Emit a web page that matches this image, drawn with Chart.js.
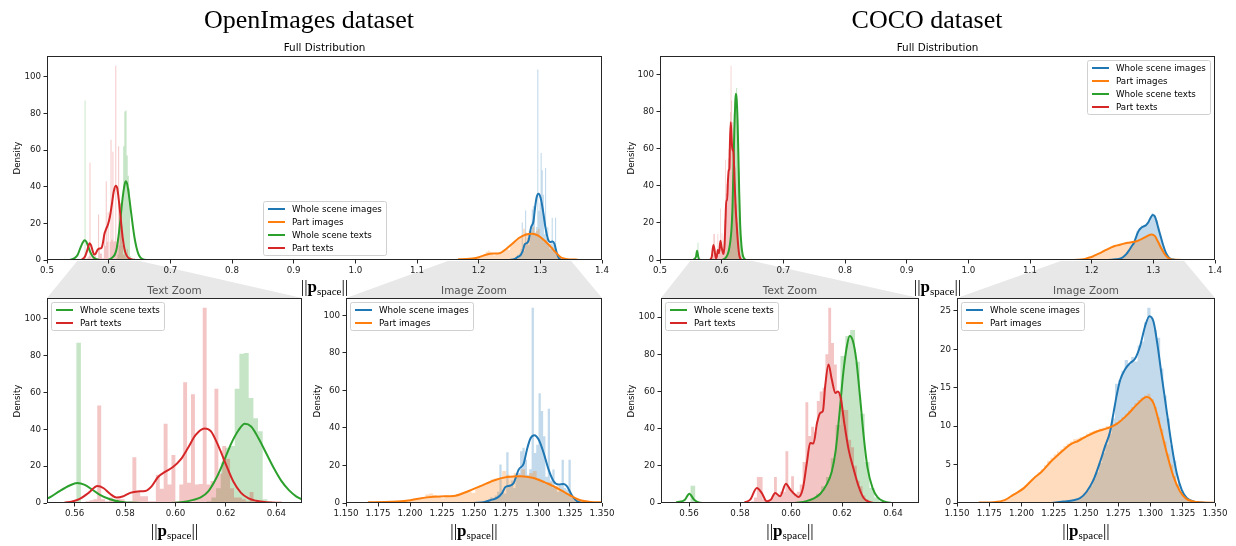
<!DOCTYPE html>
<html>
<head>
<meta charset="utf-8">
<title>Norm distributions</title>
<script src="https://cdn.jsdelivr.net/npm/chart.js@4.4.1/dist/chart.umd.min.js"></script>
<style>
html,body{margin:0;padding:0;background:#fff;}
body{position:relative;width:1236px;height:546px;overflow:hidden;font-family:'DejaVu Sans',sans-serif;color:#000;}
#bg{position:absolute;left:0;top:0;z-index:0;}
canvas.ch{position:absolute;z-index:1;}
.t{position:absolute;white-space:nowrap;transform:translate(-50%,-50%);z-index:2;line-height:1;}
.sup{font-family:'Liberation Serif',serif;font-size:26px;}
.ttl{font-size:10.4px;}
.dens{font-size:8.7px;width:60px;height:10px;line-height:10px;text-align:center;margin-left:-30px;margin-top:-5px;transform:rotate(-90deg);}
.xl{font-family:'Liberation Serif',serif;font-size:17px;}
.xl b{font-weight:bold;}
.xl sub{font-size:11px;vertical-align:-3px;line-height:0;}
.leg{position:absolute;z-index:3;box-sizing:border-box;background:rgba(255,255,255,0.8);border:1px solid #d0d0d0;border-radius:2.5px;padding:3px 4px 3px 4px;font-size:8.7px;white-space:nowrap;}
.row{display:flex;align-items:center;height:8.5px;}
.row+.row{margin-top:4.3px;}
.ln{display:inline-block;width:17px;height:2px;margin-right:7px;}
</style>
</head>
<body>
<canvas id="bg" width="1236" height="546"></canvas>
<script>
// ================= DATA : OpenImages =================
// Whole scene images (blue)
const oiImgWholeKdeX = [1.2497,1.2576,1.2641,1.268,1.2719,1.2745,1.2784,1.281,1.2849,1.2888,1.2914,1.294,1.2971,1.3005,1.3044,1.3083,1.3122,1.3161,1.32,1.3227,1.3266,1.3305,1.3344];
const oiImgWholeKdeY = [0,0.4,1.8,2.7,5.3,8.5,9.3,10.7,17.8,21,28.5,34.2,36.1,33.8,26.7,17.8,11.6,9.8,10.1,8.9,3.9,0.9,0];
const oiImgWholeHistStart = 1.2554, oiImgWholeHistWidth = 0.0018;
const oiImgWholeHistH = [0.5,1,1.5,2,3,2,4,6,20.5,7,5,27,9,12,8,14,16,27.6,29.4,23,15,18,104,26.7,31,58.4,49,35.6,14,50.2,12,17.8,8,6,9,23,8,7,23,3,1.5,0.5];
// Part images (orange)
const oiImgPartKdeX = [1.1677,1.18,1.19,1.2003,1.2133,1.2237,1.234,1.2445,1.255,1.2654,1.2758,1.2862,1.2966,1.307,1.3174,1.3253,1.3331,1.3409,1.35,1.36];
const oiImgPartKdeY = [0.4,0.5,0.8,1.5,3,3.5,3.7,6,9,12,13.8,14.3,13.3,10.5,7,4,1.5,0.6,0.3,0.2];
const oiImgPartHistStart = 1.167, oiImgPartHistWidth = 0.003;
const oiImgPartHistH = [0.3,0.3,0.4,0.4,0.5,0.5,0.7,0.8,1,1.2,1.3,1.6,2,2.4,3,4.5,5,4.2,3.5,2.5,4,3.2,4,4.5,5.5,6,6.5,5.5,8.5,9.5,10,11,12.5,13,13.5,17,15,14,16,15,18,14,16,17,13,12,10,11,8,9,7,5,4,3,2,1.5,1,0.6,0.4,0.3,0.2,0.2,0.1,0.1];
// Whole scene texts (green)
const oiTxtWholeKdeX = [0.538,0.542,0.546,0.550,0.554,0.558,0.561,0.564,0.567,0.570,0.574,0.578,0.584,0.59,0.598,0.603,0.607,0.610,0.613,0.616,0.619,0.622,0.625,0.6275,0.630,0.633,0.636,0.639,0.642,0.645,0.648,0.651,0.655,0.659];
const oiTxtWholeKdeY = [0.2,0.6,1.3,3,6.5,9.5,10.8,9.8,7.2,4.4,2,0.7,0.1,0,0,0.6,1.7,3,6.3,13,22,32,39.5,43,41.5,35,27,19,12,7,3.5,1.6,0.5,0.1];
const oiTxtWholeHistStart = 0.5606, oiTxtWholeHistWidth = 0.00185;
const oiTxtWholeHistH = [87,0,0,0,0,0,0,0,0,0,0,0,0,0,0,0,0,0,0,0,0,0,0,0,0,0,0,0.5,1,3,8,22,30,31,62,81,81.5,57,46,39,2,1];
// Part texts (red)
const oiTxtPartKdeX = [0.556,0.559,0.562,0.5655,0.569,0.5715,0.574,0.5765,0.579,0.582,0.585,0.588,0.5905,0.593,0.596,0.599,0.602,0.605,0.608,0.6115,0.614,0.617,0.620,0.623,0.626,0.629,0.632,0.636,0.642];
const oiTxtPartKdeY = [0.2,0.8,2.2,5.5,9.2,8,5,3,3.5,5.5,6.3,6.5,9,14,17,19.5,23.5,30,37,40.5,39,31,21,11.5,5.5,2.5,1.2,0.4,0.1];
const oiTxtPartHistStart = 0.5612, oiTxtPartHistWidth = 0.00155;
const oiTxtPartHistH = [0,0,1,1.5,2,53,2,1,3,1.5,2.5,2,0.5,1,24.8,6.3,3.6,3.6,1,1,15.4,7.8,43,10,26,1,10,65.6,11,59,10,10.3,106,10,12,62,16,31,24,8,3,3,2,1,6,1];

// ================= DATA : COCO =================
const cocoImgWholeKdeX = [1.2235,1.2326,1.2403,1.2455,1.2506,1.2558,1.261,1.2648,1.2687,1.2713,1.2739,1.2765,1.2803,1.2842,1.2881,1.2919,1.2958,1.2992,1.3023,1.3054,1.3087,1.3126,1.3165,1.3203,1.3242,1.3281,1.3332,1.345];
const cocoImgWholeKdeY = [0,0.2,0.35,0.65,1.5,3,5.4,7.4,9.3,11.7,14.1,16,17.4,18.2,18.8,20.4,23,24.3,23.6,20.6,16.5,11.9,7.4,3.9,1.7,0.65,0.2,0];
const cocoImgWholeHistStart = 1.2225, cocoImgWholeHistWidth = 0.0025;
const cocoImgWholeHistH = [0.1,0.1,0.15,0.2,0.2,0.3,0.35,0.4,0.6,0.8,1.2,1.6,2.2,3.2,4,5.2,6.5,7.6,9,11,15.5,16,17.2,18.6,18,19,18.4,20.5,21,23.5,25.4,24,22.5,21.5,17.5,14,11,7.5,5.5,2.5,1.5,0.7,0.4,0.2,0.1];
const cocoImgPartKdeX = [1.1675,1.1784,1.1874,1.1939,1.2016,1.2094,1.2158,1.2223,1.23,1.2377,1.2442,1.2506,1.2584,1.2661,1.2739,1.2816,1.2894,1.2971,1.3023,1.3074,1.3126,1.3177,1.3229,1.3281,1.3358,1.35,1.36];
const cocoImgPartKdeY = [0.05,0.1,0.4,1.1,1.9,3.2,4.1,5.3,6.5,7.6,8.1,8.7,9.3,9.7,10.3,11.4,12.8,13.8,13,10,6.5,3.5,1.5,0.5,0.13,0.04,0.02];
const cocoImgPartHistStart = 1.1675, cocoImgPartHistWidth = 0.0025;
const cocoImgPartHistH = [0.05,0.07,0.08,0.1,0.15,0.2,0.25,0.35,0.5,0.7,1,1.3,1.6,2,2.3,2.7,3.1,3.5,4,4.4,4.9,5.5,5.9,6.3,6.7,7,7.4,7.7,8,8.3,8.4,8.6,8.7,9,9.2,9.4,9.5,9.7,9.8,10,9.9,10.2,10.5,10.8,11.2,11.6,12,12.5,13,13.4,13.7,14,14.2,13.5,12.5,11.2,9.6,8,6.4,5,3.5,2.3,1.4,0.8,0.4,0.2,0.1,0.05];
const cocoTxtWholeKdeX = [0.5552,0.5584,0.5601,0.562,0.5643,0.57,0.60,0.603,0.606,0.609,0.6115,0.614,0.616,0.6175,0.619,0.6205,0.622,0.623,0.6243,0.6256,0.627,0.6285,0.630,0.632,0.634,0.6365,0.64];
const cocoTxtWholeKdeY = [0.4,1.8,5,1.8,0.2,0,0,0.3,1,2.5,5,10,17,28,48,70,85,89.8,87,77,58,36,19,8,3,0.8,0];
const cocoTxtWholeHistStart = 0.5605, cocoTxtWholeHistWidth = 0.0019;
const cocoTxtWholeHistH = [9.3,0.3,0,0,0,0,0,0,0,0,0,0,0,0,0,0,0,0,0,0,0,0,0.3,0.6,1.2,2.5,5,9,14,24,42,79,89.8,93,76,48,22,8,3,1,0.3];
const cocoTxtPartKdeX = [0.582,0.584,0.5866,0.5885,0.5905,0.5921,0.5938,0.5957,0.598,0.5997,0.6016,0.6029,0.6047,0.6062,0.6075,0.6088,0.6102,0.6115,0.6125,0.6134,0.6147,0.616,0.6174,0.6184,0.6196,0.6209,0.6226,0.6246,0.6265,0.6285,0.6311,0.6324];
const cocoTxtPartKdeY = [0.4,1.8,8.1,5.4,0.9,1.8,5.4,3.6,10.4,7.2,4.5,3.2,8.1,21.5,32.3,32,43,48.5,49.4,62.8,74.5,66.4,59.2,60,55.7,43,28.7,18,9,2.7,0.4,0];
const cocoTxtPartHistStart = 0.58325, cocoTxtPartHistWidth = 0.00112;
const cocoTxtPartHistH = [0.5,1,3,14,14,2,0.5,2,3,14,4,6,6,27.8,8,14.4,5,6,10,22,54.2,36,41,38,54.8,60,62,80,105,86,74.5,60,57,50,50,34,30,20,12,9,4,2,1];

// ================= TICKS / LABELS =================
const seriesLabels = ['Whole scene images','Part images','Whole scene texts','Part texts'];
const fullTicksX = [0.5,0.6,0.7,0.8,0.9,1.0,1.1,1.2,1.3,1.4];
const txtTicksX = [0.56,0.58,0.60,0.62,0.64];
const imgTicksX = [1.150,1.175,1.200,1.225,1.250,1.275,1.300,1.325,1.350];
const densTicks100 = [0,20,40,60,80,100];
const densTicks25 = [0,5,10,15,20,25];

// ================= BUILD =================
const C_BLUE='#1f77b4', C_ORANGE='#ff7f0e', C_GREEN='#2ca02c', C_RED='#d62728';
function rgba(hex,a){const n=parseInt(hex.slice(1),16);return 'rgba('+(n>>16)+','+((n>>8)&255)+','+(n&255)+','+a+')';}
function histPoints(start,width,vals){const pts=vals.map((v,i)=>({x:start+i*width,y:v}));pts.push({x:start+vals.length*width,y:0});return pts;}
function kdePoints(xs,ys){return xs.map((x,i)=>({x:x,y:ys[i]}));}

const oiSeries = [
  {label:seriesLabels[0],color:C_BLUE,kx:oiImgWholeKdeX,ky:oiImgWholeKdeY,hs:oiImgWholeHistStart,hw:oiImgWholeHistWidth,hv:oiImgWholeHistH},
  {label:seriesLabels[1],color:C_ORANGE,kx:oiImgPartKdeX,ky:oiImgPartKdeY,hs:oiImgPartHistStart,hw:oiImgPartHistWidth,hv:oiImgPartHistH},
  {label:seriesLabels[2],color:C_GREEN,kx:oiTxtWholeKdeX,ky:oiTxtWholeKdeY,hs:oiTxtWholeHistStart,hw:oiTxtWholeHistWidth,hv:oiTxtWholeHistH},
  {label:seriesLabels[3],color:C_RED,kx:oiTxtPartKdeX,ky:oiTxtPartKdeY,hs:oiTxtPartHistStart,hw:oiTxtPartHistWidth,hv:oiTxtPartHistH}
];
const cocoSeries = [
  {label:seriesLabels[0],color:C_BLUE,kx:cocoImgWholeKdeX,ky:cocoImgWholeKdeY,hs:cocoImgWholeHistStart,hw:cocoImgWholeHistWidth,hv:cocoImgWholeHistH},
  {label:seriesLabels[1],color:C_ORANGE,kx:cocoImgPartKdeX,ky:cocoImgPartKdeY,hs:cocoImgPartHistStart,hw:cocoImgPartHistWidth,hv:cocoImgPartHistH},
  {label:seriesLabels[2],color:C_GREEN,kx:cocoTxtWholeKdeX,ky:cocoTxtWholeKdeY,hs:cocoTxtWholeHistStart,hw:cocoTxtWholeHistWidth,hv:cocoTxtWholeHistH},
  {label:seriesLabels[3],color:C_RED,kx:cocoTxtPartKdeX,ky:cocoTxtPartKdeY,hs:cocoTxtPartHistStart,hw:cocoTxtPartHistWidth,hv:cocoTxtPartHistH}
];

const panels = [
  {key:'oiFull',L:47,T:56,R:602,B:260,series:oiSeries,xmin:0.5,xmax:1.4,xt:fullTicksX,xd:1,yt:densTicks100,title:'Full Distribution',tcol:'#000',leg:'lower center',densX:17,xlY:286},
  {key:'oiTxt',L:47,T:298,R:302,B:503,series:[oiSeries[2],oiSeries[3]],xmin:0.549,xmax:0.6502,xt:txtTicksX,xd:2,yt:densTicks100,title:'Text Zoom',tcol:'#555',leg:'upper left',densX:17,xlY:530,parent:'oiFull'},
  {key:'oiImg',L:346,T:298,R:602,B:503,series:[oiSeries[0],oiSeries[1]],xmin:1.15,xmax:1.35,xt:imgTicksX,xd:3,yt:densTicks100,title:'Image Zoom',tcol:'#555',leg:'upper left',densX:317,xlY:530,parent:'oiFull'},
  {key:'cocoFull',L:660,T:56,R:1215,B:260,series:cocoSeries,xmin:0.5,xmax:1.4,xt:fullTicksX,xd:1,yt:densTicks100,title:'Full Distribution',tcol:'#000',leg:'upper right',densX:631,xlY:286},
  {key:'cocoTxt',L:661,T:298,R:919,B:503,series:[cocoSeries[2],cocoSeries[3]],xmin:0.549,xmax:0.6502,xt:txtTicksX,xd:2,yt:densTicks100,title:'Text Zoom',tcol:'#555',leg:'upper left',densX:631,xlY:530,parent:'cocoFull'},
  {key:'cocoImg',L:957,T:298,R:1215,B:503,series:[cocoSeries[0],cocoSeries[1]],xmin:1.15,xmax:1.35,xt:imgTicksX,xd:3,yt:densTicks25,title:'Image Zoom',tcol:'#555',leg:'upper left',densX:933,xlY:530,parent:'cocoFull'}
];

Chart.defaults.font.family = "'DejaVu Sans', sans-serif";
Chart.defaults.color = '#1a1a1a';
const LW=44, TP=6, RP=18, XH=20;

const framePlugin = {id:'frame', afterDatasetsDraw(c){const a=c.chartArea,g=c.ctx;g.save();g.strokeStyle='#262626';g.lineWidth=1;g.strokeRect(Math.round(a.left)+0.5,Math.round(a.top)+0.5,Math.round(a.right-a.left)-1,Math.round(a.bottom-a.top)-1);g.restore();}};

function axisOpts(min,max,ticksArr,dec,isX){
  return {
    type:'linear',min:min,max:max,
    afterBuildTicks:s=>{s.ticks=ticksArr.map(v=>({value:v}));},
    afterFit:s=>{if(isX){s.height=XH;s.paddingLeft=0;s.paddingRight=0;}else{s.width=LW;s.paddingTop=0;s.paddingBottom=0;}},
    grid:{display:true,drawOnChartArea:false,drawTicks:true,tickLength:3.5,color:'#262626',lineWidth:1},
    border:{display:false},
    ticks:{autoSkip:false,maxRotation:0,minRotation:0,padding:isX?2:2.5,font:{size:8.7},color:'#1a1a1a',callback:v=>Number(v).toFixed(dec)}
  };
}

function makeDatasets(series){
  const ds=[];
  series.forEach((s,i)=>{
    ds.push({label:s.label+' (hist)',data:histPoints(s.hs,s.hw,s.hv),stepped:true,fill:'origin',backgroundColor:rgba(s.color,0.27),borderColor:'rgba(0,0,0,0)',borderWidth:0,pointRadius:0,pointHoverRadius:0,order:20-i});
  });
  series.forEach((s,i)=>{
    ds.push({label:s.label,data:kdePoints(s.kx,s.ky),borderColor:s.color,borderWidth:2,pointRadius:0,pointHoverRadius:0,fill:false,cubicInterpolationMode:'monotone',borderJoinStyle:'round',borderCapStyle:'round',order:3-i});
  });
  return ds;
}

function addText(cls,txt,x,y,color,html){
  const d=document.createElement('div');d.className='t '+cls;
  if(html)d.innerHTML=txt;else d.textContent=txt;
  d.style.left=x+'px';d.style.top=y+'px';if(color)d.style.color=color;
  document.body.appendChild(d);return d;
}
function addDensity(x,y){
  const d=document.createElement('div');d.className='dens';d.textContent='Density';
  d.style.position='absolute';d.style.zIndex=2;d.style.left=Math.round(x)+'px';d.style.top=Math.round(y)+'px';
  document.body.appendChild(d);
}

function makeChart(p){
  const cv=document.createElement('canvas');cv.className='ch';
  const w=(p.R-p.L)+LW+RP,h=(p.B-p.T)+TP+XH;
  cv.width=w;cv.height=h;cv.style.left=(p.L-LW)+'px';cv.style.top=(p.T-TP)+'px';cv.style.width=w+'px';cv.style.height=h+'px';
  document.body.appendChild(cv);
  const yMax=1.05*Math.max.apply(null,p.series.reduce((a,s)=>a.concat(s.hv),[]));
  p.chart=new Chart(cv,{type:'line',data:{datasets:makeDatasets(p.series)},
    options:{responsive:false,animation:false,devicePixelRatio:1,events:[],
      layout:{padding:{left:0,top:TP,right:RP,bottom:0}},
      plugins:{legend:{display:false},tooltip:{enabled:false},title:{display:false}},
      scales:{x:axisOpts(p.xmin,p.xmax,p.xt,p.xd,true),y:axisOpts(0,yMax,p.yt,0,false)}},
    plugins:[framePlugin]});
  p.cl=p.L-LW;p.ct=p.T-TP;
}

function makeLegend(p){
  const d=document.createElement('div');d.className='leg';
  p.series.forEach(s=>{const r=document.createElement('div');r.className='row';
    const l=document.createElement('span');l.className='ln';l.style.background=s.color;
    const t=document.createElement('span');t.textContent=s.label;r.appendChild(l);r.appendChild(t);d.appendChild(r);});
  document.body.appendChild(d);
  const w=d.offsetWidth,h=d.offsetHeight,pad=4.3;let x,y;
  if(p.leg==='lower center'){x=(p.L+p.R)/2-w/2;y=p.B-pad-h;}
  else if(p.leg==='upper right'){x=p.R-pad-w;y=p.T+pad;}
  else{x=p.L+pad;y=p.T+pad;}
  d.style.left=Math.round(x)+'px';d.style.top=Math.round(y)+'px';
}

panels.forEach(makeChart);

addText('sup','OpenImages dataset',309,20);
addText('sup','COCO dataset',927,20);
panels.forEach(p=>{
  const cx=(p.L+p.R)/2;
  addText('ttl',p.title,cx,p.T===56?47:290,p.tcol);
  addDensity(p.densX,(p.T+p.B)/2);
  addText('xl','||<b>p</b><sub>space</sub>||',cx,p.xlY,null,true);
  makeLegend(p);
});

// zoom connectors
const bg=document.getElementById('bg').getContext('2d');
panels.filter(p=>p.parent).forEach(p=>{
  const par=panels.find(q=>q.key===p.parent);
  const sx=par.chart.scales.x,pa=par.chart.chartArea,ca=p.chart.chartArea;
  const x1=par.cl+sx.getPixelForValue(p.xmin),x2=par.cl+sx.getPixelForValue(p.xmax),y1=par.ct+pa.bottom+1;
  bg.fillStyle='#e8e8e8';bg.beginPath();bg.moveTo(x1,y1);bg.lineTo(x2,y1);
  bg.lineTo(p.cl+ca.right,p.ct+ca.top);bg.lineTo(p.cl+ca.left,p.ct+ca.top);bg.closePath();bg.fill();
});
</script>
</body>
</html>
